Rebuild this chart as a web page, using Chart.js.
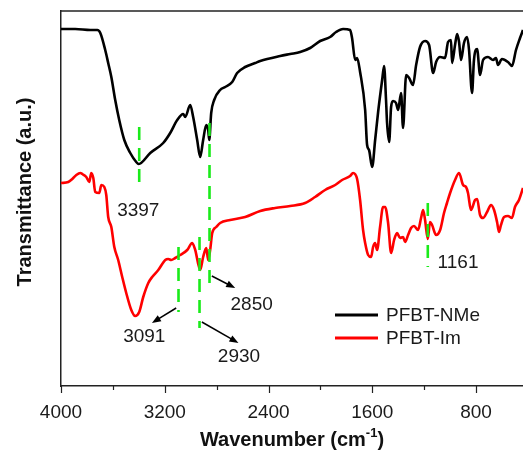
<!DOCTYPE html>
<html>
<head>
<meta charset="utf-8">
<script src="https://cdn.jsdelivr.net/npm/chart.js@4.4.0/dist/chart.umd.min.js"></script>
<style>
  html, body { margin: 0; padding: 0; background: #fff; overflow: hidden; }
  #ftir { display: block; }
</style>
</head>
<body>
<canvas id="ftir" width="523" height="453"></canvas>
<script>
// spectra (wavenumber in cm-1, transmittance in a.u.)
const nmeWavenumber = [4000,3890,3774,3720,3697,3659,3636,3612,3582,3551,3512,3466,3420,3401,3312,3212,3158,3104,3058,3042,
  3004,2981,2950,2927,2904,2880,2865,2857,2842,2819,2773,2734,2680,2642,2580,2503,2464,2310,2233,2156,
  2079,2002,1925,1879,1825,1771,1756,1732,1717,1694,1655,1640,1625,1601,1578,1555,1524,1509,1494,1486,
  1470,1455,1440,1417,1401,1378,1363,1339,1316,1286,1262,1232,1193,1162,1131,1108,1077,1039,1016,993,
  985,962,946,931,916,893,869,854,831,816,792,769,746,708,669,646,631,600,554,523,
  492,461,438];
const nmeT = [357,357,356,356,353,336,323,309,286,266,246,233,224,222,233,243,253,266,272,269,
  281,269,246,229,246,261,256,246,273,286,296,299,304,313,319,323,325,330,332,334,
  338,345,349,354,357,356,348,326,328,314,276,241,236,219,246,274,306,320,286,263,
  244,279,285,283,276,293,258,311,308,301,321,339,345,341,313,324,329,328,344,346,
  323,341,352,344,326,343,349,336,293,326,337,311,326,329,326,328,321,327,324,320,
  336,348,356];

const imWavenumber = [4000,3944,3913,3882,3851,3836,3805,3782,3767,3751,3736,3705,3689,3666,3651,3636,3612,3589,3559,3528,
  3497,3458,3428,3397,3366,3327,3297,3250,3196,3173,3150,3119,3081,3027,2988,2965,2927,2904,2880,2865,
  2850,2834,2803,2773,2696,2580,2464,2349,2233,2118,2041,1964,1886,1833,1771,1748,1717,1694,1671,1655,
  1632,1609,1594,1578,1563,1540,1517,1501,1478,1455,1432,1409,1386,1363,1347,1324,1301,1278,1247,1224,
  1208,1193,1172,1155,1139,1108,1077,1047,1024,1000,962,931,900,877,862,839,808,792,769,746,
  715,685,661,638,623,608,584,554,523,500,469,438];
const imT = [203,204,207,211,213,212,209,204,213,208,194,193,201,199,191,169,159,139,126,109,
  93,76,70,74,89,103,109,116,126,127,126,128,131,136,143,136,116,129,138,126,
  136,153,159,163,166,169,175,178,180,183,189,196,201,206,210,213,207,186,156,143,
  131,129,139,143,136,159,179,179,163,133,146,153,148,149,144,151,158,160,156,168,
  176,166,147,164,161,151,156,173,183,193,206,213,201,199,193,176,186,187,171,168,
  174,181,176,164,154,161,169,170,168,179,186,198];

const seriesNames = ['PFBT-NMe', 'PFBT-Im'];
const seriesColors = ['#000000', '#ff0000'];

const xTickLabels = [4000, 3200, 2400, 1600, 800];
const xMinorTicks = [3600, 2800, 2000, 1200];

// peak markers: position, top and bottom of the dashed line
const peakPos = [3397, 2855, 3094, 2932, 1172];
const peakTop = [259, 263, 139, 149, 183];
const peakBottom = [196, 96, 74, 58, 119];

// peak labels and where they sit
const peakText = ['3397', '2850', '3091', '2930', '1161'];
const peakTextX = [3404, 2530, 3358, 2628, 939];
const peakTextY = [175, 81, 49, 29, 123];

// arrows from the dashed lines to the labels
const arrowFromX = [2837, 3112, 2914];
const arrowFromY = [110, 78, 64];
const arrowToX = [2657, 3299, 2632];
const arrowToY = [98, 63, 43];

const FONT = '"Liberation Sans", Arial, Helvetica, sans-serif';

function arrow(ctx, x1, y1, x2, y2) {
    const a = Math.atan2(y2 - y1, x2 - x1);
    const len = 9, half = 3.5;
    ctx.beginPath();
    ctx.moveTo(x1, y1);
    ctx.lineTo(x2 - Math.cos(a) * len * 0.8, y2 - Math.sin(a) * len * 0.8);
    ctx.stroke();
    ctx.beginPath();
    ctx.moveTo(x2, y2);
    ctx.lineTo(x2 - Math.cos(a) * len + Math.sin(a) * half, y2 - Math.sin(a) * len - Math.cos(a) * half);
    ctx.lineTo(x2 - Math.cos(a) * len - Math.sin(a) * half, y2 - Math.sin(a) * len + Math.cos(a) * half);
    ctx.closePath();
    ctx.fill();
}

const extras = {
    id: 'extras',
    afterDatasetsDraw(chart) {
        const ctx = chart.ctx;
        const xs = chart.scales.x, ys = chart.scales.y;
        const area = chart.chartArea;
        ctx.save();

        // top frame line
        ctx.strokeStyle = '#222';
        ctx.lineWidth = 1.5;
        ctx.beginPath();
        ctx.moveTo(area.left, area.top);
        ctx.lineTo(area.right, area.top);
        ctx.stroke();

        // tick marks below the axis
        ctx.lineWidth = 1.2;
        xTickLabels.forEach(v => {
            const px = Math.round(xs.getPixelForValue(v)) + 0.5;
            ctx.beginPath(); ctx.moveTo(px, area.bottom); ctx.lineTo(px, area.bottom + 7); ctx.stroke();
        });
        xMinorTicks.forEach(v => {
            const px = Math.round(xs.getPixelForValue(v)) + 0.5;
            ctx.beginPath(); ctx.moveTo(px, area.bottom); ctx.lineTo(px, area.bottom + 4); ctx.stroke();
        });

        // green dashed peak markers
        ctx.strokeStyle = '#1aeb1a';
        ctx.lineWidth = 2.6;
        ctx.setLineDash([13, 8]);
        peakPos.forEach((p, i) => {
            const px = xs.getPixelForValue(p);
            ctx.beginPath();
            ctx.moveTo(px, ys.getPixelForValue(peakTop[i]));
            ctx.lineTo(px, ys.getPixelForValue(peakBottom[i]));
            ctx.stroke();
        });
        ctx.setLineDash([]);

        // arrows
        ctx.strokeStyle = '#000';
        ctx.fillStyle = '#000';
        ctx.lineWidth = 1.5;
        arrowFromX.forEach((x0, i) => {
            arrow(ctx, xs.getPixelForValue(x0), ys.getPixelForValue(arrowFromY[i]),
                xs.getPixelForValue(arrowToX[i]), ys.getPixelForValue(arrowToY[i]));
        });

        // peak labels
        ctx.fillStyle = '#1a1a1a';
        ctx.font = '19px ' + FONT;
        ctx.textAlign = 'center';
        ctx.textBaseline = 'middle';
        peakText.forEach((t, i) => {
            ctx.fillText(t, xs.getPixelForValue(peakTextX[i]), ys.getPixelForValue(peakTextY[i]));
        });

        // legend
        ctx.textAlign = 'left';
        seriesNames.forEach((name, i) => {
            const y = 315 + i * 23;
            ctx.strokeStyle = seriesColors[i];
            ctx.lineWidth = 3;
            ctx.beginPath(); ctx.moveTo(335, y); ctx.lineTo(378, y); ctx.stroke();
            ctx.fillStyle = '#1a1a1a';
            ctx.fillText(name, 386, y + 1);
        });

        // axis titles
        ctx.fillStyle = '#111';
        ctx.font = 'bold 20px ' + FONT;
        ctx.save();
        ctx.translate(25, 192);
        ctx.rotate(-Math.PI / 2);
        ctx.textAlign = 'center';
        ctx.fillText('Transmittance (a.u.)', 0, 0);
        ctx.restore();

        const main = 'Wavenumber (cm';
        ctx.font = 'bold 20px ' + FONT;
        const wMain = ctx.measureText(main).width;
        ctx.font = 'bold 13px ' + FONT;
        const wSup = ctx.measureText('-1').width;
        ctx.font = 'bold 20px ' + FONT;
        const wEnd = ctx.measureText(')').width;
        let x = 292 - (wMain + wSup + wEnd) / 2;
        ctx.textAlign = 'left';
        ctx.fillText(main, x, 440);
        x += wMain;
        ctx.font = 'bold 13px ' + FONT;
        ctx.fillText('-1', x, 433);
        x += wSup;
        ctx.font = 'bold 20px ' + FONT;
        ctx.fillText(')', x, 440);

        ctx.restore();
    }
};

new Chart(document.getElementById('ftir'), {
    type: 'line',
    data: {
        datasets: [
            { label: seriesNames[0], data: nmeWavenumber.map((w, i) => ({ x: w, y: nmeT[i] })),
              borderColor: seriesColors[0], borderWidth: 2.6, pointRadius: 0, cubicInterpolationMode: 'monotone' },
            { label: seriesNames[1], data: imWavenumber.map((w, i) => ({ x: w, y: imT[i] })),
              borderColor: seriesColors[1], borderWidth: 2.6, pointRadius: 0, cubicInterpolationMode: 'monotone' }
        ]
    },
    options: {
        responsive: false,
        animation: false,
        devicePixelRatio: 1,
        layout: { padding: { top: 11, right: 0, left: 0, bottom: 0 } },
        plugins: { legend: { display: false }, tooltip: { enabled: false } },
        scales: {
            x: {
                type: 'linear', reverse: true, min: 438, max: 4000,
                grid: { display: false, drawTicks: false },
                border: { display: true, color: '#222', width: 1.5 },
                afterBuildTicks: s => { s.ticks = xTickLabels.map(v => ({ value: v })); },
                afterFit: s => { s.height = 67; },
                ticks: { padding: 15, color: '#1a1a1a', font: { family: FONT, size: 19 }, maxRotation: 0, autoSkip: false,
                         callback: v => String(v) }
            },
            y: {
                min: 0, max: 375,
                grid: { display: false, drawTicks: false },
                border: { display: true, color: '#222', width: 1.5 },
                ticks: { display: false },
                afterFit: s => { s.width = 61; }
            }
        }
    },
    plugins: [extras]
});
</script>
</body>
</html>
